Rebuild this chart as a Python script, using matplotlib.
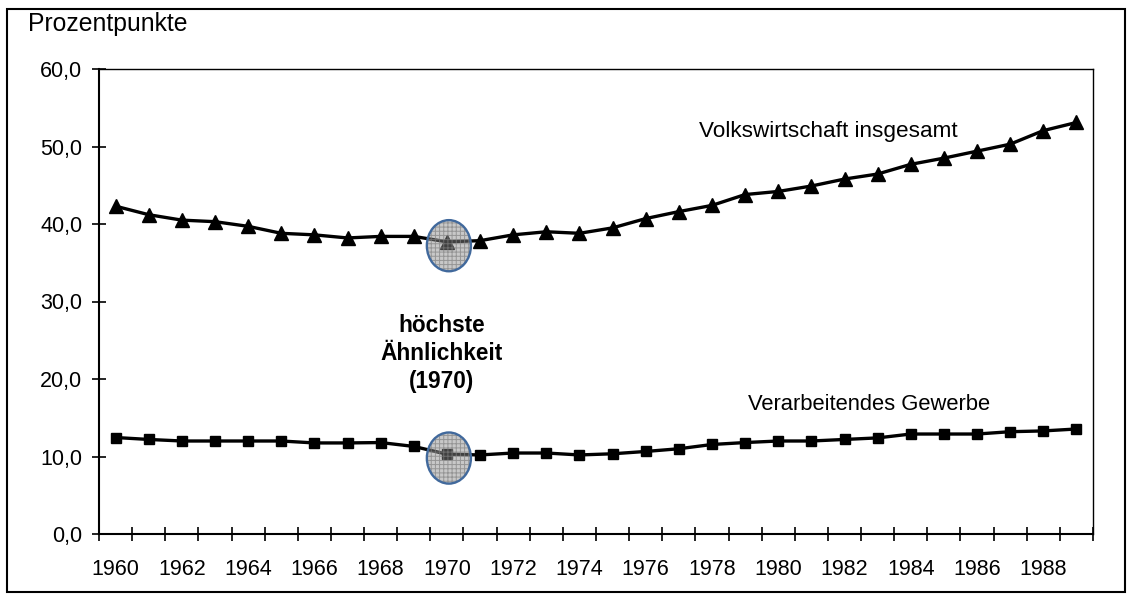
import matplotlib
matplotlib.use('Agg')
import matplotlib.pyplot as plt
from matplotlib.patches import Ellipse, Rectangle
import numpy as np

# ---------------- data ----------------
years = list(range(1960, 1990))
volkswirtschaft = [42.3, 41.2, 40.5, 40.3, 39.7, 38.8, 38.6, 38.2, 38.4, 38.4,
                   37.7, 37.85, 38.6, 39.0, 38.8, 39.5, 40.7, 41.6, 42.4, 43.8,
                   44.2, 44.9, 45.8, 46.45, 47.7, 48.5, 49.4, 50.3, 52.05, 53.1]
verarbeitendes = [12.45, 12.2, 12.0, 12.0, 12.0, 12.0, 11.75, 11.75, 11.8, 11.3,
                  10.3, 10.2, 10.45, 10.45, 10.2, 10.35, 10.65, 11.0, 11.55, 11.8,
                  12.0, 12.0, 12.2, 12.4, 12.9, 12.9, 12.9, 13.2, 13.3, 13.55]
highlight_year = 1970
y_ticks = [0, 10, 20, 30, 40, 50, 60]
x_label_years = list(range(1960, 1990, 2))
label_volk = 'Volkswirtschaft insgesamt'
label_verarb = 'Verarbeitendes Gewerbe'
label_highlight = 'höchste\nÄhnlichkeit\n(1970)'
y_title = 'Prozentpunkte'

# ---------------- style ----------------
plt.rcParams['font.family'] = ['Liberation Sans', 'DejaVu Sans']
plt.rcParams['hatch.linewidth'] = 0.7

W, H = 1128, 595
fig = plt.figure(figsize=(W / 100, H / 100), dpi=100)
ax = fig.add_axes([99 / W, (H - 534) / H, (1093 - 99) / W, (534 - 69) / H])

ax.plot(years, volkswirtschaft, color='black', lw=2.4, marker='^', ms=9.5,
        zorder=3, clip_on=False)
ax.plot(years, verarbeitendes, color='black', lw=2.4, marker='s', ms=7,
        zorder=3, clip_on=False)

ax.set_xlim(years[0] - 0.5, years[-1] + 0.5)
ax.set_ylim(y_ticks[0], y_ticks[-1])

# category-style x axis: ticks between categories, labels at even years
ax.set_xticks(np.arange(years[0] - 0.5, years[-1] + 1, 1))
ax.set_xticklabels([])
ax.set_xticks(x_label_years, minor=True)
ax.set_xticklabels([str(y) for y in x_label_years], minor=True, fontsize=15.5)
ax.tick_params(axis='x', which='major', direction='inout', length=10, width=1.2)
ax.tick_params(axis='x', which='minor', length=0, pad=18)

ax.set_yticks(y_ticks)
ax.set_yticklabels([f"{v:.1f}".replace('.', ',') for v in y_ticks], fontsize=15.5)
ax.tick_params(axis='y', direction='inout', length=10, width=1.2, pad=7)

for s in ['left', 'bottom']:
    ax.spines[s].set_linewidth(1.5)
for s in ['top', 'right']:
    ax.spines[s].set_linewidth(1.0)

# highlight ellipses around 1970
idx = years.index(highlight_year)
for series in (volkswirtschaft, verarbeitendes):
    cx, cy = highlight_year + 0.06, series[idx] - 0.5
    ew, eh = 1.33, 6.6
    ax.add_patch(Ellipse((cx, cy), ew, eh, facecolor=(0.54, 0.54, 0.54, 0.47),
                         edgecolor='none', lw=0, zorder=4))
    ax.add_patch(Ellipse((cx, cy), ew, eh, facecolor='none',
                         edgecolor=(0.5, 0.5, 0.5, 0.7), hatch='++++', lw=0, zorder=4))
    ax.add_patch(Ellipse((cx, cy), ew, eh, facecolor='none',
                         edgecolor='#41699c', lw=1.7, zorder=5))

# annotations
ax.text(1977.6, 51.9, label_volk, fontsize=16.2, va='center', ha='left')
ax.text(1979.1, 16.7, label_verarb, fontsize=15.8, va='center', ha='left')
ax.text(1969.85, 23.3, label_highlight, fontsize=16.3, fontweight='bold',
        ha='center', va='center', linespacing=1.3)

fig.text(28 / W, 1 - 24 / H, y_title, fontsize=17.8, ha='left', va='center')

# outer chart border
fig.patches.append(Rectangle((7 / W, 1 - 592 / H), (1125 - 7) / W, (592 - 9) / H,
                             transform=fig.transFigure, fill=False,
                             edgecolor='black', lw=1.5))

fig.savefig('out.png', dpi=100)
